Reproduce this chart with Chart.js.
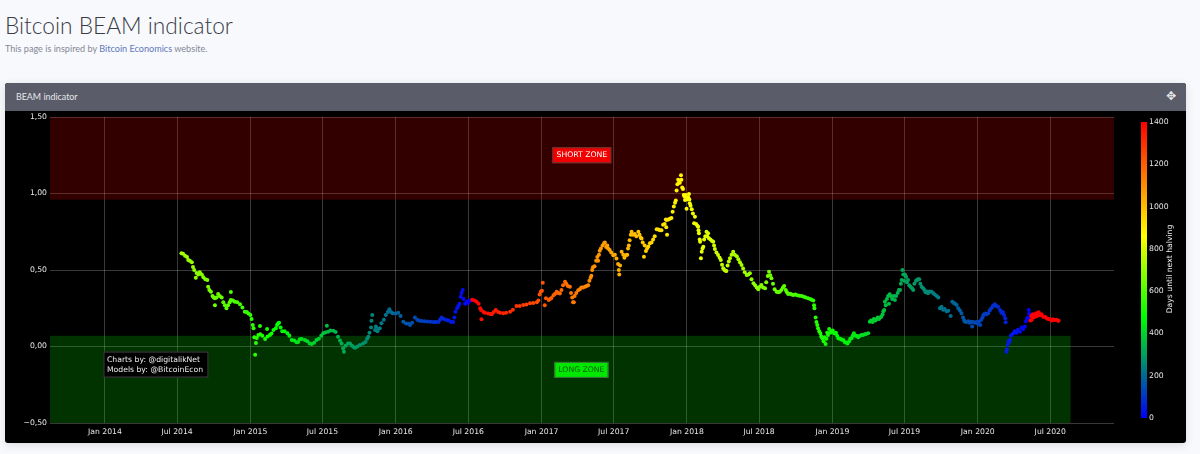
<!DOCTYPE html>
<html>
<head>
<meta charset="utf-8">
<title>Bitcoin BEAM indicator</title>
<script src="https://cdn.jsdelivr.net/npm/chart.js@4"></script>
<style>
  html, body { margin: 0; padding: 0; background: #f8f9fc; width: 1200px; height: 454px; overflow: hidden; }
  body { font-family: Lato, "Open Sans", sans-serif; position: relative; }
  h1 { position: absolute; left: 5px; top: 9px; margin: 0; font-size: 22.7px; font-weight: 300; line-height: 34px; color: #3a3b45; }
  .sub { position: absolute; left: 5px; top: 42px; font-size: 9.1px; line-height: 14px; color: #858796; }
  .sub a { color: #6078bd; text-decoration: none; }
  .card { position: absolute; left: 5px; top: 83px; width: 1181px; height: 360px; background: #000; border-radius: 3px; box-shadow: 0 2px 8px rgba(58,59,69,.15); overflow: hidden; }
  .card-head { height: 28px; background: #5a5c69; color: #e6e6ea; font-size: 8.9px; line-height: 27px; padding-left: 11px; position: relative; }
  .card-head span { position: absolute; right: 10px; top: 0; font-family: "DejaVu Sans"; font-size: 12px; color: #e6e6ea; }
  canvas { display: block; }
</style>
</head>
<body>
<h1>Bitcoin BEAM indicator</h1>
<div class="sub">This page is inspired by <a href="#">Bitcoin Economics</a> website.</div>
<div class="card">
  <div class="card-head">BEAM indicator<span>✥</span></div>
  <canvas id="beamChart" width="1181" height="332"></canvas>
</div>
<script>
// x values are days counted from 1 Jan 2014
const xTickDays = [0, 181, 365, 546, 730, 912, 1096, 1277, 1461, 1642, 1826, 2007, 2191, 2373];
const xTickLabels = ['Jan 2014', 'Jul 2014', 'Jan 2015', 'Jul 2015', 'Jan 2016', 'Jul 2016', 'Jan 2017', 'Jul 2017', 'Jan 2018', 'Jul 2018', 'Jan 2019', 'Jul 2019', 'Jan 2020', 'Jul 2020'];
const yTicks = [-0.5, 0, 0.5, 1, 1.5];
const yTickLabels = ['−0,50', '0,00', '0,50', '1,00', '1,50'];
const colorTicks = [0, 200, 400, 600, 800, 1000, 1200, 1400];
const halvingDays = [920, 2322, 3784];

// zones: [firstDay, lastDay, lowValue, highValue]
const shortZone = [-138, 2533, 0.96, 1.5];
const longZone = [-138, 2424, -0.5, 0.07];

// [day, BEAM value]
const beam2014 = [[192,.61],[196,.606],[201,.593],[206,.585],[209,.565],[213,.56],[218,.55],[221,.52],[224,.50],[228,.45],[230,.48],[234,.47],[238,.485],[243,.47],[247,.452],[252,.44],[257,.435],[259,.39],[262,.37],[266,.358],[270,.33],[273,.32],[276,.315],[276,.27],[280,.32],[284,.343],[288,.33],[293,.32],[297,.29],[301,.27],[305,.25],[309,.27],[313,.29],[316,.356],[316,.304],[321,.30],[326,.293],[332,.29],[339,.276],[345,.255],[351,.227],[356,.225],[360,.215],[365,.206]];

const beam2015 = [[368,.18],[371,.14],[373,.12],[375,.06],[377,-.054],[379,.023],[381,.056],[385,.075],[389,.134],[390,.08],[395,.07],[402,.049],[407,.114],[408,.065],[414,.075],[418,.085],[423,.108],[429,.12],[432,.14],[435,.152],[437,.155],[441,.125],[445,.10],[451,.10],[458,.086],[463,.07],[469,.042],[475,.04],[481,.027],[485,.03],[489,.047],[494,.049],[502,.042],[508,.035],[514,.02],[519,.016],[525,.025],[531,.042],[537,.05],[543,.07],[548,.086],[553,.092],[557,.136],[560,.097],[566,.105],[573,.103],[579,.095],[585,.064],[590,.04],[594,.02],[598,-.012],[600,-.034],[604,.005],[610,.02],[615,.02],[620,.005],[625,-.005],[628,-.008],[634,0],[640,.01],[648,.02],[654,.03],[658,.05],[661,.064],[664,.09],[668,.125],[669,.168],[671,.206],[678,.108],[680,.13],[684,.10],[686,.115],[690,.119],[694,.152],[700,.175],[705,.206],[710,.225],[714,.243],[718,.225],[722,.217]];

const beam2016 = [[729,.215],[736,.221],[742,.20],[749,.162],[756,.15],[762,.148],[766,.14],[771,.155],[778,.19],[784,.175],[790,.168],[795,.167],[802,.165],[810,.164],[817,.162],[824,.16],[830,.16],[837,.16],[841,.175],[845,.19],[851,.18],[857,.173],[863,.17],[869,.16],[874,.16],[877,.19],[880,.227],[884,.25],[887,.265],[890,.28],[893,.325],[895,.35],[898,.37],[900,.31],[904,.28],[908,.293],[911,.285],[914,.30],[918,.30],[922,.305],[928,.30],[933,.293],[938,.28],[942,.25],[944,.239],[945,.178],[950,.225],[954,.221],[962,.215],[968,.212],[971,.21],[976,.225],[981,.239],[987,.225],[992,.22],[1000,.217],[1007,.22],[1017,.227],[1024,.24],[1033,.265],[1041,.265],[1050,.271],[1058,.275],[1067,.282],[1075,.285],[1084,.289],[1088,.30],[1091,.34],[1094,.358]];

const beam2017 = [[1097,.365],[1099,.417],[1104,.27],[1107,.315],[1114,.304],[1117,.31],[1121,.317],[1126,.335],[1130,.345],[1134,.358],[1138,.35],[1142,.347],[1146,.37],[1150,.40],[1155,.423],[1158,.41],[1162,.395],[1167,.39],[1170,.35],[1173,.32],[1175,.29],[1177,.29],[1179,.33],[1183,.35],[1188,.368],[1192,.375],[1196,.385],[1200,.386],[1205,.39],[1209,.395],[1213,.40],[1216,.43],[1219,.45],[1221,.463],[1223,.50],[1225,.518],[1229,.525],[1233,.56],[1236,.585],[1238,.56],[1240,.60],[1242,.626],[1245,.64],[1249,.66],[1253,.675],[1255,.68],[1258,.65],[1261,.66],[1263,.64],[1267,.63],[1271,.615],[1276,.596],[1280,.60],[1284,.575],[1288,.54],[1290,.50],[1291,.47],[1293,.53],[1297,.62],[1301,.60],[1304,.58],[1308,.596],[1311,.60],[1313,.64],[1315,.66],[1317,.695],[1320,.73],[1322,.75],[1326,.73],[1330,.735],[1334,.72],[1339,.75],[1342,.73],[1345,.71],[1347,.706],[1350,.68],[1353,.586],[1355,.66],[1358,.625],[1361,.64],[1364,.654],[1368,.675],[1372,.68],[1376,.70],[1380,.72],[1385,.767],[1389,.765],[1393,.76],[1397,.76],[1401,.795],[1405,.80],[1408,.83],[1410,.827],[1411,.73],[1409,.78],[1414,.83],[1418,.835],[1422,.84],[1425,.88],[1428,.915],[1431,.94],[1433,.955],[1435,1.02],[1437,1.06],[1439,1.09],[1441,1.07],[1443,1.07],[1446,1.12],[1447,1.09],[1449,1.04],[1451,1.03],[1453,.99],[1455,.98],[1456,.958],[1458,.99],[1460,.90]];

const beam2018 = [[1462,.96],[1464,.975],[1466,.997],[1467,.96],[1468,.936],[1470,.92],[1473,.897],[1476,.87],[1479,.805],[1481,.848],[1484,.80],[1487,.79],[1489,.783],[1490,.76],[1491,.74],[1493,.70],[1494,.685],[1496,.576],[1498,.62],[1500,.64],[1502,.652],[1504,.70],[1507,.72],[1510,.75],[1512,.72],[1514,.74],[1516,.707],[1520,.70],[1524,.69],[1527,.685],[1529,.66],[1531,.637],[1535,.615],[1539,.598],[1543,.58],[1546,.565],[1549,.535],[1552,.511],[1555,.50],[1558,.495],[1560,.494],[1563,.53],[1566,.555],[1569,.576],[1573,.60],[1577,.62],[1581,.60],[1586,.59],[1590,.57],[1594,.55],[1598,.533],[1602,.51],[1606,.485],[1611,.467],[1615,.47],[1619,.478],[1623,.44],[1628,.413],[1632,.40],[1636,.385],[1640,.374],[1644,.39],[1648,.402],[1652,.385],[1657,.38],[1660,.42],[1664,.46],[1667,.489],[1670,.465],[1673,.446],[1677,.41],[1681,.375],[1686,.358],[1690,.355],[1694,.358],[1698,.37],[1702,.385],[1705,.395],[1709,.37],[1712,.355],[1715,.343],[1720,.345],[1724,.34],[1728,.337],[1733,.34],[1738,.335],[1743,.332],[1749,.33],[1754,.325],[1759,.32],[1765,.315],[1770,.31],[1774,.305],[1778,.30],[1780,.27],[1781,.25],[1784,.19],[1786,.16],[1788,.14],[1790,.12],[1793,.10],[1796,.085],[1798,.065],[1801,.054],[1804,.035],[1806,.06],[1809,.016],[1811,.05],[1813,.09],[1815,.075],[1818,.115],[1821,.09],[1824,.097]];

const beam2019 = [[1827,.105],[1831,.085],[1835,.09],[1838,.07],[1841,.054],[1845,.05],[1849,.045],[1853,.042],[1857,.03],[1861,.025],[1864,.02],[1868,.035],[1871,.05],[1874,.054],[1877,.07],[1880,.086],[1883,.07],[1887,.07],[1891,.06],[1895,.07],[1899,.075],[1903,.075],[1907,.08],[1911,.082],[1916,.086],[1920,.162],[1923,.17],[1927,.16],[1930,.18],[1934,.17],[1937,.178],[1940,.19],[1943,.18],[1946,.19],[1949,.195],[1952,.21],[1954,.23],[1956,.239],[1958,.293],[1960,.27],[1963,.31],[1966,.33],[1968,.28],[1970,.341],[1973,.33],[1976,.31],[1980,.33],[1983,.304],[1986,.33],[1990,.35],[1993,.37],[1996,.37],[1998,.41],[2000,.435],[2002,.50],[2004,.47],[2006,.43],[2008,.47],[2011,.456],[2013,.42],[2016,.435],[2019,.40],[2022,.39],[2026,.38],[2029,.37],[2032,.41],[2036,.43],[2039,.435],[2041,.44],[2044,.439],[2047,.41],[2050,.39],[2054,.38],[2057,.37],[2060,.355],[2063,.36],[2066,.348],[2070,.36],[2075,.358],[2079,.35],[2083,.34],[2088,.33],[2092,.32],[2096,.25],[2100,.26],[2104,.24],[2108,.245],[2113,.23],[2117,.234],[2123,.20],[2127,.293],[2131,.285],[2134,.28],[2138,.271],[2142,.25],[2146,.235],[2150,.217],[2154,.19],[2157,.17],[2159,.162],[2163,.16],[2167,.165],[2171,.155],[2175,.162],[2177,.13],[2180,.16],[2184,.155],[2188,.16]];

const beam2020 = [[2191,.15],[2194,.162],[2197,.14],[2200,.175],[2203,.19],[2205,.206],[2209,.215],[2213,.21],[2217,.217],[2221,.235],[2225,.25],[2229,.265],[2232,.27],[2234,.276],[2238,.265],[2242,.26],[2247,.239],[2250,.22],[2254,.225],[2257,.206],[2260,.185],[2261,.158],[2263,-.034],[2264,-.02],[2266,.01],[2268,.035],[2270,.03],[2272,.042],[2274,.07],[2276,.075],[2280,.086],[2284,.10],[2288,.09],[2292,.11],[2297,.097],[2301,.125],[2305,.115],[2309,.13],[2312,.165],[2315,.184],[2317,.19],[2319,.239],[2320,.215],[2323,.17],[2325,.20],[2326,.173],[2329,.21],[2331,.19],[2334,.195],[2337,.215],[2340,.20],[2342,.22],[2344,.224],[2347,.205],[2351,.21],[2355,.195],[2360,.195],[2364,.185],[2368,.18],[2372,.178],[2376,.17],[2380,.178],[2384,.173],[2388,.175],[2392,.17],[2394,.169]];

const points = [...beam2014, ...beam2015, ...beam2016, ...beam2017, ...beam2018, ...beam2019, ...beam2020]
  .map(([x, y]) => ({ x, y }));

// ─── COLOUR SCALE ─────────────────────────────────────────────
const colorStops = [
  [0, [0, 0, 255]],
  [480, [0, 255, 0]],
  [860, [255, 255, 0]],
  [1400, [255, 0, 0]]
];

function colorForDaysLeft(left) {
  const v = Math.max(0, Math.min(1400, left));
  for (let i = 1; i < colorStops.length; i++) {
    const [v0, c0] = colorStops[i - 1];
    const [v1, c1] = colorStops[i];
    if (v <= v1) {
      const t = (v - v0) / (v1 - v0);
      const c = c0.map((a, k) => Math.round(a + (c1[k] - a) * t));
      return `rgb(${c[0]},${c[1]},${c[2]})`;
    }
  }
  return 'rgb(255,0,0)';
}

function colorForDay(day) {
  const next = halvingDays.find(h => h >= day);
  return colorForDaysLeft(next - day);
}

// ─── PLUGINS ──────────────────────────────────────────────────
const TICK_SIZE = 7.7;
const FONT = `${TICK_SIZE}px "DejaVu Sans"`;

const zonesPlugin = {
  id: 'zones',
  beforeDatasetsDraw(chart) {
    const { ctx, scales: { x, y } } = chart;
    const draw = (zone, color) => {
      const left = x.getPixelForValue(zone[0]);
      const right = x.getPixelForValue(zone[1]);
      const top = y.getPixelForValue(zone[3]);
      const bottom = y.getPixelForValue(zone[2]);
      ctx.fillStyle = color;
      ctx.fillRect(left, top, right - left, bottom - top);
    };
    draw(shortZone, 'rgba(255,0,0,0.2)');
    draw(longZone, 'rgba(0,255,0,0.2)');
  }
};

const labelBox = (ctx, cx, cy, w, h, fill, border) => {
  ctx.fillStyle = fill;
  ctx.fillRect(cx - w / 2, cy - h / 2, w, h);
  ctx.strokeStyle = border;
  ctx.lineWidth = 1;
  ctx.strokeRect(cx - w / 2 + .5, cy - h / 2 + .5, w - 1, h - 1);
};

const overlayPlugin = {
  id: 'overlay',
  afterDatasetsDraw(chart) {
    const { ctx, scales: { x, y, yColor } } = chart;
    ctx.save();
    ctx.font = FONT;
    ctx.textBaseline = 'middle';

    // zone annotations
    ctx.textAlign = 'center';
    let cx = x.getPixelForValue(1197), cy = y.getPixelForValue(1.25);
    labelBox(ctx, cx, cy, 59, 16, '#f00000', '#5a3a3a');
    ctx.fillStyle = '#fff';
    ctx.fillText('SHORT ZONE', cx, cy);

    cx = x.getPixelForValue(1196); cy = y.getPixelForValue(-0.153);
    labelBox(ctx, cx, cy, 54, 16, '#00e800', '#3a6a3a');
    ctx.fillStyle = '#0a5a0a';
    ctx.fillText('LONG ZONE', cx, cy);

    // credits
    cx = x.getPixelForValue(128); cy = y.getPixelForValue(-0.118);
    labelBox(ctx, cx, cy, 105, 26, '#000', '#444');
    ctx.textAlign = 'left';
    ctx.fillStyle = '#eee';
    ctx.fillText('Charts by: @digitalikNet', cx - 49, cy - 5);
    ctx.fillText('Models by: @BitcoinEcon', cx - 49, cy + 5);

    // colour bar
    const barTop = yColor.getPixelForValue(1400);
    const barBottom = yColor.getPixelForValue(0);
    const barLeft = yColor.left + 27;
    const grad = ctx.createLinearGradient(0, barBottom, 0, barTop);
    colorStops.forEach(([v, c]) => grad.addColorStop(v / 1400, `rgb(${c[0]},${c[1]},${c[2]})`));
    ctx.fillStyle = grad;
    ctx.fillRect(barLeft, barTop, 6, barBottom - barTop);

    // axis title, reads bottom to top
    ctx.translate(yColor.left + 56, (barTop + barBottom) / 2 - 1);
    ctx.rotate(-Math.PI / 2);
    ctx.textAlign = 'center';
    ctx.fillStyle = '#eee';
    ctx.fillText('Days until next halving', 0, 0);
    ctx.restore();
  }
};

// tick padding otherwise leaks into the layout as room above and below the plot
const noVerticalPadding = s => { s.paddingTop = 0; s.paddingBottom = 0; };

// ─── CHART ────────────────────────────────────────────────────
new Chart(document.getElementById('beamChart'), {
  type: 'scatter',
  data: {
    datasets: [{
      data: points,
      pointRadius: 2,
      pointBorderWidth: 0,
      pointBackgroundColor: c => colorForDay(c.raw.x)
    }]
  },
  options: {
    responsive: false,
    animation: false,
    layout: { padding: { top: 6, left: 0, right: 0, bottom: 0 } },
    plugins: { legend: { display: false }, tooltip: { enabled: false } },
    scales: {
      x: {
        type: 'linear',
        min: -138,
        max: 2533,
        border: { display: false },
        grid: { color: 'rgba(255,255,255,0.22)', drawTicks: false },
        afterBuildTicks: s => { s.ticks = xTickDays.map(value => ({ value })); },
        afterFit: s => { s.height = 20; },
        ticks: {
          autoSkip: false,
          maxRotation: 0,
          padding: 4,
          color: '#e6e6e6',
          font: { family: 'DejaVu Sans', size: TICK_SIZE },
          callback: v => xTickLabels[xTickDays.indexOf(v)]
        }
      },
      y: {
        min: -0.5,
        max: 1.5,
        border: { display: false },
        grid: { color: 'rgba(255,255,255,0.22)', drawTicks: false },
        afterBuildTicks: s => { s.ticks = yTicks.map(value => ({ value })); },
        afterFit: s => { s.width = 45; noVerticalPadding(s); },
        ticks: {
          padding: 3,
          color: '#e6e6e6',
          font: { family: 'DejaVu Sans', size: TICK_SIZE },
          callback: v => yTickLabels[yTicks.indexOf(v)]
        }
      },
      yColor: {
        axis: 'y',
        position: 'right',
        min: -24,
        max: 1424,
        border: { display: false },
        grid: { display: false, drawTicks: false },
        afterBuildTicks: s => { s.ticks = colorTicks.map(value => ({ value })); },
        afterFit: s => { s.width = 72; noVerticalPadding(s); },
        ticks: {
          padding: 35,
          color: '#e6e6e6',
          font: { family: 'DejaVu Sans', size: TICK_SIZE },
          callback: v => String(v)
        }
      }
    }
  },
  plugins: [zonesPlugin, overlayPlugin]
});
</script>
</body>
</html>
